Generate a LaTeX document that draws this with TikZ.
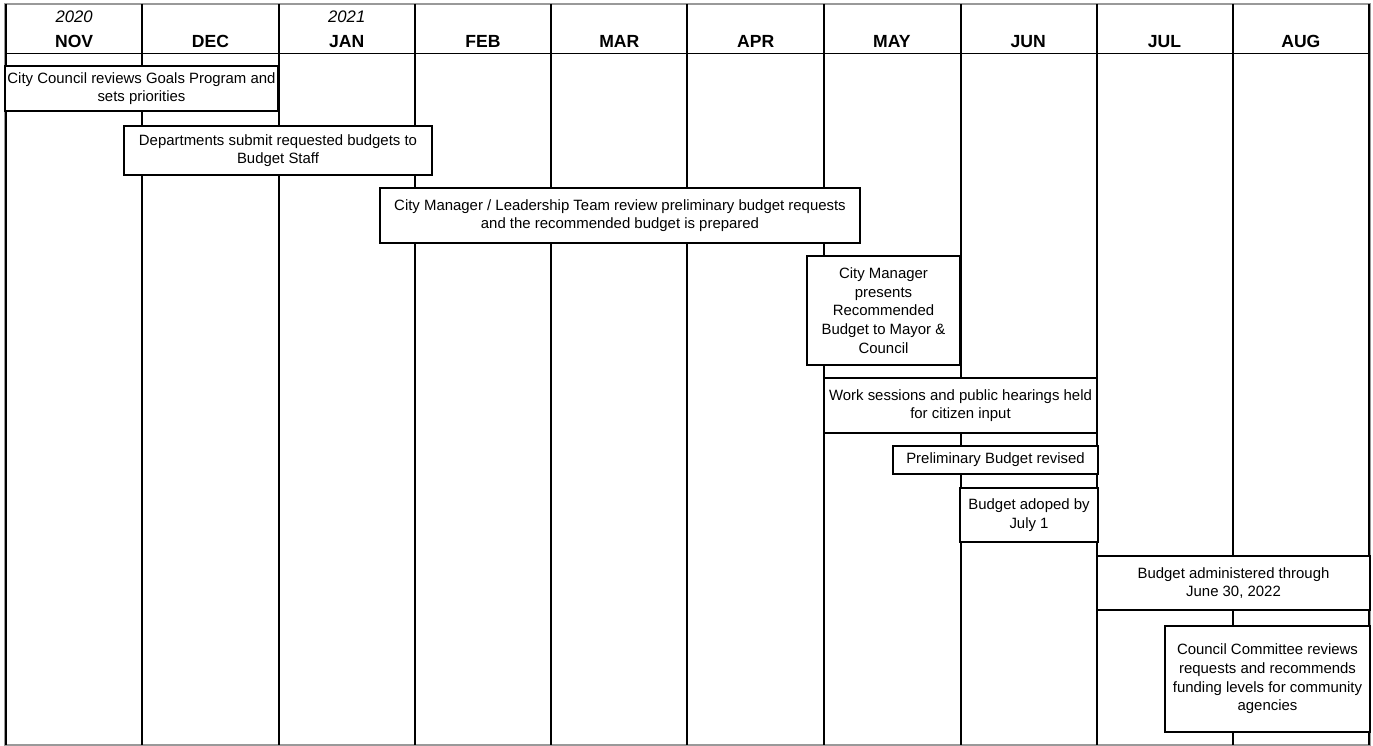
\documentclass[tikz,border=0pt]{standalone}
\usepackage{fontspec}
\setmainfont{Liberation Sans}
\newcommand{\evt}{\fontsize{8.5}{10.6}\selectfont}
\newcommand{\mth}{\fontsize{10}{12}\selectfont\bfseries}
\newcommand{\yr}{\fontsize{9.5}{11}\selectfont\itshape}

\begin{document}
\begin{tikzpicture}[x=0.02cm,y=-0.02cm,
  evbox/.style={draw=black,line width=1.5pt,fill=white,align=center,inner sep=1pt,font=\evt}]
  \useasboundingbox (0,0) rectangle (1373,746);
  \draw[gray!80, line width=0.6pt] (5,4) rectangle (1370,745);
  % month columns
  \foreach \x in {6,142,279,415,551,687,824,961,1097,1233,1369}
    \draw[line width=1.1pt] (\x,4) -- (\x,745);
  \draw[line width=0.5pt] (5,53) -- (1370,53);
  \foreach \m [count=\i] in {NOV,DEC,JAN,FEB,MAR,APR,MAY,JUN,JUL,AUG}
    \node[font=\mth,anchor=base] (m\i) at ({6+136.3*(\i-0.5)},47.5) {\m};
  \node[font=\yr,anchor=base] (y2020) at (m1 |- 0,23) {2020};
  \node[font=\yr,anchor=base] (y2021) at (m3 |- 0,23) {2021};
  % events
  \node[evbox,minimum width=5.46cm,minimum height=0.90cm] (goals)   at ( 141.5, 88.5) {City Council reviews Goals Program and\\sets priorities};
  \node[evbox,minimum width=6.16cm,minimum height=0.98cm] (submit)  at ( 278.0,150.5) {Departments submit requested budgets to\\Budget Staff};
  \node[evbox,minimum width=9.60cm,minimum height=1.10cm] (review)  at ( 620.0,215.5) {City Manager / Leadership Team review preliminary budget requests\\and the recommended budget is prepared};
  \node[evbox,minimum width=3.06cm,minimum height=2.18cm] (present) at ( 883.5,310.5) {City Manager\\presents\\Recommended\\Budget to Mayor \&\\Council};
  \node[evbox,minimum width=5.46cm,minimum height=1.10cm] (hearing) at ( 960.5,405.5) {Work sessions and public hearings held\\for citizen input};
  \node[evbox,minimum width=4.10cm,minimum height=0.56cm] (revise)  at ( 995.5,460.0) {Preliminary Budget revised};
  \node[evbox,minimum width=2.76cm,minimum height=1.08cm] (adopt)   at (1029.0,515.0) {Budget adoped by\\July 1};
  \node[evbox,minimum width=5.46cm,minimum height=1.08cm] (admin)   at (1233.5,583.0) {Budget administered through\\June 30, 2022};
  \node[evbox,minimum width=4.10cm,minimum height=2.12cm] (agency)  at (1267.5,679.0) {Council Committee reviews\\requests and recommends\\funding levels for community\\agencies};
\end{tikzpicture}
\end{document}
